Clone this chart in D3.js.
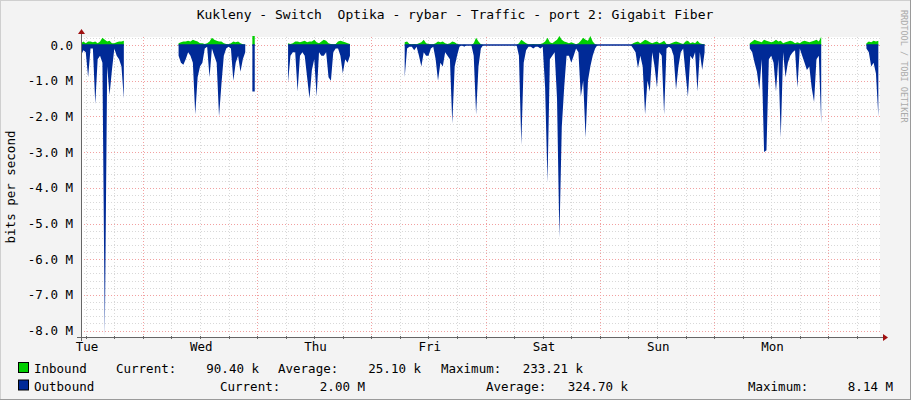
<!DOCTYPE html>
<html><head><meta charset="utf-8">
<script src="https://cdn.jsdelivr.net/npm/d3@7"></script>
<style>body{margin:0;background:#F3F3F3}svg{display:block}text{font-family:"DejaVu Sans Mono",monospace;fill:#000}</style>
</head><body><svg id="c" width="911" height="400"></svg>
<script>
// 30-minute samples, index 0 = left edge of graph. Values in Mbit/s.
const dayLabels = ["Tue","Wed","Thu","Fri","Sat","Sun","Mon"];
const yTicks = [0,-1,-2,-3,-4,-5,-6,-7,-8];
const yTickLabels = ["0.0","-1.0 M","-2.0 M","-3.0 M","-4.0 M","-5.0 M","-6.0 M","-7.0 M","-8.0 M"];
const segStarts = [0, 41, 87, 136, 281, 330];
const outboundSegs = [
 [0.3,0.15,0.2,0.9,0.1,0.1,1.65,0.4,0.3,0.5,8.14,0.6,1.4,0.7,0.1,0.3,0.4,0.6,1.5],
 [0.3,0.5,0.55,0.4,0.2,0.3,0.5,1.95,0.9,0.6,0.5,0.1,0.05,0.9,0.1,0.3,0.5,2.0,1.1,0.3,0.1,0.05,0.1,1.0,0.5,0.3,0.75,0.4,0.2,null,null,1.3,1.3],
 [1.05,0.3,0.2,0.2,1.3,0.3,0.2,0.3,0.9,1.5,0.7,0.4,1.45,0.2,0.3,0.3,0.2,0.9,1.0,0.2,0.1,0.1,0.3,0.8,0.4,0.5,0.3],
 [0.9,0.1,0.05,0.05,0.15, 0.05,0.3,0.6,0.2,0.3, 0.3,0.1,0.05,0.4,1.0, 0.5,0.6,0.2,0.3,0.4,
  2.2,0.6,0.3,0.05,0, 0.05,0,0,0,0.3, 1.95,0.6,0.1,0,0, 0,0,0,0,0, 0,0,0,0,0, 0,0,0,0.3,2.8,
  0.5,0.15,0.05,0.05,0.1, 0.05,0.05,0.1,0.05,1.2, 3.85,0.4,0.3,0.2,1.5, 5.4,2.3,1.2,0.3,0.3,
  0.5,0.3,0.1,0.2,1.45, 1.0,2.6,1.0,0.6,0.3, 0.1,0,0,0,0, 0,0,0,0,0, 0,0,0,0,0,
  0,0.1,0.2,0.65,0.3, 0.6,1.95,1.0,1.3,0.2, 0.6,1.2,0.2,0.3,1.95, 0.1,0.05,0.1,0.3,1.25,
  0.6,0.2,0.1,0.8,1.45, 0.3,0.4,0.2,1.3,0.2, 0.7,0.2],
 [0.1,0.2,0.5,0.75,1.25, 0.4,3.0,2.95,0.4,0.3, 0.5,1.3,0.4,2.6,0.2, 0.9,0.5,0.3,0.2,0.15,
  1.2,0.1,0.3,0.5,0.7, 0.6,1.2,1.6,0.4,0.3, 2.2],
 [0.1,0.2,0.6,0.5,0.8,2.0]
];
const inboundSegs = [
 [0.05,0.1,0.05,0.1,0.1,0.08,0.1,0.05,0.1,0.2,0.15,0.1,0.12,0.05,0.05,0.08,0.1,0.1,0.12],
 [0.05,0.08,0.1,0.1,0.12,0.1,0.15,0.12,0.1,0.05,0.05,0.03,0.05,0.1,0.2,0.15,0.12,0.1,0.1,0.05,0.03,0.02,0.05,0.1,0.08,0.1,0.05,0.02,0.01,null,null,0.25,0.25],
 [0.05,0.03,0.05,0.1,0.1,0.08,0.1,0.12,0.08,0.1,0.1,0.15,0.08,0.05,0.1,0.15,0.12,0.05,0.03,0.02,0.03,0.1,0.12,0.1,0.08,0.05,0.03],
 [0.08,0.1,0.03,0.02,0.03, 0.02,0.05,0.08,0.15,0.05, 0.03,0.02,0.02,0.05,0.1, 0.08,0.1,0.05,0.03,0.05,
  0.1,0.08,0.03,0.01,0, 0.01,0,0,0,0.05, 0.2,0.1,0.02,0,0, 0,0,0,0,0, 0,0,0,0,0, 0,0,0,0.05,0.15,
  0.1,0.05,0.02,0.02,0.03, 0.02,0.02,0.03,0.05,0.1, 0.2,0.08,0.05,0.1,0.15, 0.25,0.15,0.1,0.08,0.05,
  0.08,0.05,0.02,0.05,0.12, 0.2,0.15,0.12,0.25,0.1, 0.02,0,0,0,0, 0,0,0,0,0, 0,0,0,0,0,
  0,0.05,0.08,0.1,0.05, 0.1,0.15,0.12,0.08,0.05, 0.08,0.1,0.05,0.08,0.12, 0.03,0.02,0.05,0.08,0.1,
  0.08,0.05,0.03,0.1,0.12, 0.05,0.08,0.05,0.12,0.05, 0.03,0.02],
 [0.05,0.1,0.15,0.12,0.1, 0.08,0.15,0.12,0.1,0.08, 0.1,0.15,0.1,0.12,0.05, 0.08,0.1,0.12,0.1,0.05,
  0.08,0.05,0.1,0.12,0.1, 0.08,0.1,0.12,0.15,0.1, 0.23],
 [0.05,0.1,0.08,0.12,0.1,0.12]
];
const legendRows = [
 {name:"Inbound", color:"#00CF00", cur:"90.40 k", avg:"25.10 k", max:"233.21 k"},
 {name:"Outbound", color:"#002A97", cur:"2.00 M", avg:"324.70 k", max:"8.14 M"}
];

const svg = d3.select("#c");
const L=81, R=880, T=37, B=337;
const x = d3.scaleLinear().domain([0,335.7]).range([L,R]);
const y = d3.scaleLinear().domain([0,-8]).range([45,330.6]);

svg.append("rect").attr("x",0.5).attr("y",0.5).attr("width",910).attr("height",399).attr("fill","#F3F3F3").attr("stroke","#CFCFCF");
svg.append("line").attr("x1",0).attr("x2",911).attr("y1",399.5).attr("y2",399.5).attr("stroke","#9A9A9A");
svg.append("line").attr("x1",910.5).attr("x2",910.5).attr("y1",0).attr("y2",400).attr("stroke","#9A9A9A");
svg.append("rect").attr("x",L).attr("y",T).attr("width",R-L).attr("height",B-T).attr("fill","#fff");

const g = svg.append("g").attr("shape-rendering","crispEdges");
for(let i=2;i<336;i+=12){ if((i-26)%48===0) continue;
  g.append("line").attr("x1",Math.round(x(i))+.5).attr("x2",Math.round(x(i))+.5).attr("y1",T).attr("y2",B).attr("stroke","#D8D8D8").attr("stroke-dasharray","1,2");}
for(let v=0.2; v>-8.2; v-=0.2){ const r=Math.round(v*5); if(r%5===0) continue;
  g.append("line").attr("x1",L).attr("x2",R).attr("y1",Math.round(y(v))+.5).attr("y2",Math.round(y(v))+.5).attr("stroke","#D8D8D8").attr("stroke-dasharray","1,2");}
for(let i=26;i<336;i+=48)
  g.append("line").attr("x1",Math.round(x(i))+.5).attr("x2",Math.round(x(i))+.5).attr("y1",T).attr("y2",B).attr("stroke","#F2A0A0").attr("stroke-dasharray","1,2");
yTicks.forEach(v=>g.append("line").attr("x1",L).attr("x2",R).attr("y1",Math.round(y(v))+.5).attr("y2",Math.round(y(v))+.5).attr("stroke","#F2A0A0").attr("stroke-dasharray","1,2"));

function withBreaks(segs){ const out=[]; segs.forEach((s,k)=>{ s.forEach((v,j)=>out.push({i:segStarts[k]+j,v})); out.push({i:segStarts[k]+s.length,v:null}); }); return out; }
const inD = withBreaks(inboundSegs), outD = withBreaks(outboundSegs);
svg.append("path").datum(inD).attr("fill","#00CF00")
  .attr("d",d3.area().defined(d=>d.v!=null).x(d=>x(d.i)).y0(y(0)).y1(d=>y(d.v)));
svg.append("path").datum(outD).attr("fill","#002A97")
  .attr("d",d3.area().defined(d=>d.v!=null).x(d=>x(d.i)).y0(y(0)).y1(d=>y(-d.v)));
svg.append("path").datum(outD).attr("fill","none").attr("stroke","#002A97").attr("stroke-width",1.5)
  .attr("d",d3.line().defined(d=>d.v!=null).x(d=>x(d.i)).y(y(0)));

svg.append("line").attr("x1",L-4).attr("x2",R+3).attr("y1",B+.5).attr("y2",B+.5).attr("stroke","#666").attr("shape-rendering","crispEdges");
svg.append("line").attr("x1",L+.5).attr("x2",L+.5).attr("y1",B+4).attr("y2",T-3).attr("stroke","#666").attr("shape-rendering","crispEdges");
svg.append("path").attr("d",`M${R+3},${B-3}L${R+8},${B+.5}L${R+3},${B+4}Z`).attr("fill","#A01010");
svg.append("path").attr("d",`M${L-3},${T-3}L${L+.5},${T-8}L${L+4},${T-3}Z`).attr("fill","#A01010");
for(let i=2;i<336;i+=12) svg.append("line").attr("x1",Math.round(x(i))+.5).attr("x2",Math.round(x(i))+.5).attr("y1",B-1).attr("y2",B+2).attr("stroke","#666");

dayLabels.forEach((d,k)=>svg.append("text").attr("x",x(2.5+48*k)).attr("y",351).attr("text-anchor","middle").attr("font-size",12.5).text(d));
yTicks.forEach((v,k)=>svg.append("text").attr("x",73).attr("y",y(v)+4.5).attr("text-anchor","end").attr("font-size",12.5).text(yTickLabels[k]));

svg.append("text").attr("x",455).attr("y",19).attr("text-anchor","middle").attr("font-size",13).attr("xml:space","preserve")
  .text("Kukleny - Switch  Optika - rybar - Traffic - port 2: Gigabit Fiber");
svg.append("text").attr("transform","translate(15,187) rotate(-90)").attr("text-anchor","middle").attr("font-size",12.5).text("bits per second");
svg.append("text").attr("transform","translate(901,10) rotate(90)").attr("font-size",8.5).style("fill","#aaa").text("RRDTOOL / TOBI OETIKER");

const pos = [
 {n:34, c:116, cv:259, a:278, av:421, m:441, mv:583},
 {n:34, c:220, cv:365, a:486, av:628, m:748, mv:893}
];
legendRows.forEach((r,k)=>{
  const yy = 373 + k*17.5, p = pos[k];
  svg.append("rect").attr("x",18.5).attr("y",yy-10.5).attr("width",10).attr("height",10).attr("fill",r.color).attr("stroke","#000");
  const t=(xx,s,a)=>svg.append("text").attr("x",xx).attr("y",yy).attr("font-size",12.5).attr("text-anchor",a||"start").text(s);
  t(p.n,r.name); t(p.c,"Current:"); t(p.cv,r.cur,"end"); t(p.a,"Average:"); t(p.av,r.avg,"end"); t(p.m,"Maximum:"); t(p.mv,r.max,"end");
});
</script></body></html>
